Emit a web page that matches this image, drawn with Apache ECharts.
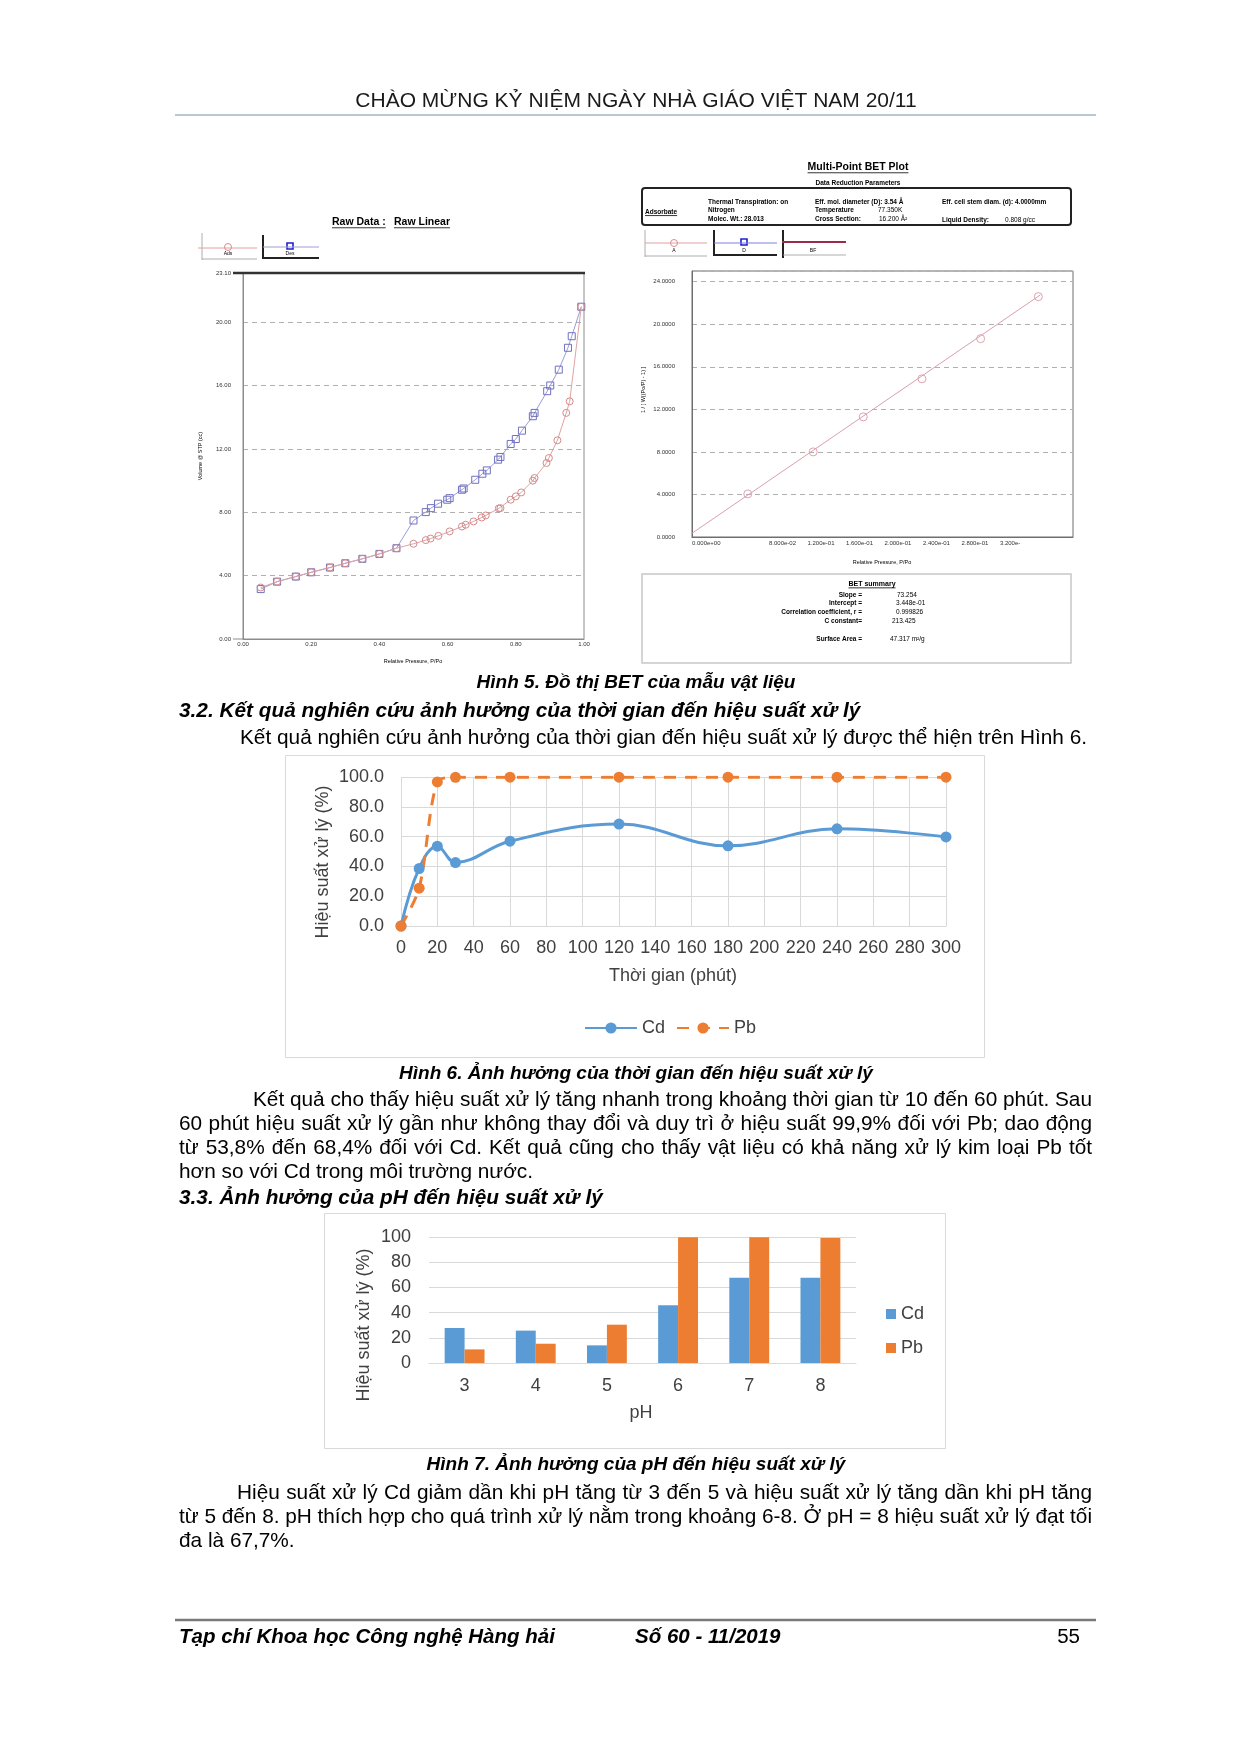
<!DOCTYPE html>
<html><head><meta charset="utf-8">
<script src="https://cdn.jsdelivr.net/npm/echarts@6.0.0/dist/echarts.min.js"></script>
<style>html,body{margin:0;padding:0;background:#fff}#c{width:1240px;height:1754px}</style>
</head><body><div id="c"></div>
<script>
// ---------- DATA ----------
// Hình 5 (left): raw isotherm, relative pressure P/Po and volume (cc/g STP)
const adsP = [0.052,0.10,0.155,0.20,0.255,0.30,0.35,0.40,0.45,0.50,0.536,0.55,0.573,0.606,0.642,0.653,0.676,0.70,0.712,0.75,0.755,0.785,0.80,0.816,0.85,0.855,0.89,0.897,0.922,0.948,0.958,0.992];
const adsV = [3.25,3.62,3.94,4.21,4.51,4.78,5.06,5.37,5.73,6.01,6.24,6.34,6.51,6.79,7.10,7.21,7.42,7.67,7.80,8.24,8.26,8.79,9.00,9.25,9.99,10.16,11.11,11.42,12.54,14.27,15.00,20.97];
const desP = [0.992,0.964,0.953,0.926,0.901,0.892,0.855,0.85,0.818,0.80,0.785,0.755,0.748,0.715,0.702,0.681,0.647,0.642,0.606,0.599,0.572,0.551,0.536,0.50,0.45,0.40,0.35,0.30,0.255,0.20,0.155,0.10,0.052];
const desV = [20.97,19.11,18.38,17.00,16.00,15.64,14.27,14.06,13.15,12.62,12.31,11.49,11.32,10.64,10.43,10.05,9.50,9.42,8.89,8.79,8.54,8.26,8.01,7.48,5.73,5.37,5.06,4.78,4.51,4.21,3.94,3.62,3.15];
// Hình 5 (right): multi-point BET
const betP = [0.058,0.126,0.178,0.239,0.300,0.360];
const betY = [4.05,8.00,11.29,14.87,18.64,22.59];
const betFitP = [0,0.362];
const betFitY = [0.35,22.75];
const betXTickLabels = ['0.000e+00','','8.000e-02','1.200e-01','1.600e-01','2.000e-01','2.400e-01','2.800e-01','3.200e-'];
// Hình 6
const timeMin = [0,10,20,30,60,120,180,240,300];
const cdTime = [0,38.6,53.6,42.6,56.9,68.4,53.8,65.2,59.8];
const pbTime = [0,25.4,96.7,99.8,99.9,99.9,99.9,99.9,99.9];
// Hình 7
const phCats = ['3','4','5','6','7','8'];
const cdPH = [27.8,25.7,14.0,45.8,67.7,67.7];
const pbPH = [10.8,15.3,30.4,99.9,99.9,99.2];

// ---------- HELPERS ----------
const FF = '"Liberation Sans", Arial, Helvetica, sans-serif';
const zip = (a,b)=>a.map((v,i)=>[v,b[i]]);
const mctx = document.createElement('canvas').getContext('2d');
function tw(t,size,weight,style){ mctx.font=(style||'normal')+' '+(weight||'normal')+' '+size+'px '+FF; return mctx.measureText(t).width; }
const G = [];
function txt(t,x,y,o){ o=o||{}; G.push({type:'text',x:x,y:y,rotation:o.rot||0,silent:true,z:10,
  style:{text:t,fontSize:o.size||21,fontFamily:FF,fontWeight:o.weight||'normal',fontStyle:o.style||'normal',
  fill:o.color||'#000',align:o.align||'left',verticalAlign:'middle'}}); }
function ln(x1,y1,x2,y2,c,w,dash){ G.push({type:'line',silent:true,z:10,shape:{x1:x1,y1:y1,x2:x2,y2:y2},style:{stroke:c,lineWidth:w,lineDash:dash||null}}); }
function rc(x,y,w,h,c,lw,r,fill){ G.push({type:'rect',silent:true,z:5,shape:{x:x,y:y,width:w,height:h,r:r||0},style:{fill:fill||'none',stroke:c,lineWidth:lw}}); }
function ci(cx,cy,r,c,lw){ G.push({type:'circle',silent:true,z:10,shape:{cx:cx,cy:cy,r:r},style:{fill:'none',stroke:c,lineWidth:lw||1}}); }
function uline(t,x,y,size,align){ const w=tw(t,size,'bold'); const x0 = align==='center'? x-w/2 : x; txt(t,x,y,{size:size,weight:'bold',align:align||'left'}); ln(x0,y+size*0.55,x0+w,y+size*0.55,'#000',0.8); }
function just(t,x0,x1,y,size){ const ws=t.split(' '); const wd=ws.map(w=>tw(w,size)); const tot=wd.reduce((a,b)=>a+b,0); const gap=(x1-x0-tot)/(ws.length-1); let x=x0; ws.forEach((w,i)=>{ txt(w,x,y,{size:size}); x+=wd[i]+gap; }); }

// ---------- PAGE TEXT ----------
txt('CHÀO MỪNG KỶ NIỆM NGÀY NHÀ GIÁO VIỆT NAM 20/11',636,101,{size:21,align:'center',color:'#1a1a1a'});
ln(175,115,1096,115,'#9fb4c8',1.5);

// left BET decorations
uline('Raw Data :',332,222,10.5); uline('Raw Linear',394,222,10.5);
ln(202,233,202,260,'#999',0.8); ln(198,248,257,248,'#e0a0a0',1); ci(228,247,3.5,'#d98c8c',1); txt('Ads',228,254,{size:5,align:'center'}); ln(202,259,257,259,'#999',0.8);
ln(263,235,263,259,'#222',2); ln(262,258,319,258,'#222',2); ln(263,247,319,247,'#a0a0d8',1); rc(287,243,6,6,'#2020d0',1.6); txt('Des',290,254,{size:5,align:'center'});
ln(233,273,585,273,'#333',2.5); ln(233,639,243,639,'#8c8c8c',1);
txt('Volume @ STP (cc)',200,456,{size:5.5,rot:Math.PI/2,align:'center'});
txt('Relative Pressure, P/Po',413,661,{size:5.5,align:'center'});

// right BET decorations
uline('Multi-Point BET Plot',858,167,10.5,'center');
txt('Data Reduction Parameters',858,183,{size:6.5,weight:'bold',align:'center'});
rc(642,188,429,37,'#222',2,3);
uline('Adsorbate',645,212,6.5);
[['Thermal Transpiration: on',708,202],['Nitrogen',708,210],['Molec. Wt.: 28.013',708,219],
 ['Eff. mol. diameter (D): 3.54 Å',815,202],['Temperature',815,210],['Cross Section:',815,219],
 ['Eff. cell stem diam. (d): 4.0000mm',942,202],['Liquid Density:',942,220]].forEach(a=>txt(a[0],a[1],a[2],{size:6.5,weight:'bold'}));
txt('77.350K',878,210,{size:6.5}); txt('16.200 Å²',879,219,{size:6.5}); txt('0.808 g/cc',1005,220,{size:6.5});
ln(645,230,645,257,'#999',0.8); ln(645,243,707,243,'#e0a0a0',1); ci(674,243,3.5,'#d98c8c',1); txt('A',674,251,{size:5,align:'center'}); ln(645,256,707,256,'#999',0.8);
ln(714,230,714,256,'#222',2); ln(714,255,777,255,'#222',2); ln(714,243,777,243,'#8080e0',1); rc(741,239,6,6,'#2020d0',1.6); txt('D',744,251,{size:5,align:'center'});
ln(783,230,783,258,'#222',2); ln(782,242,846,242,'#a02848',2); ln(783,255,846,255,'#999',0.8); txt('BF',813,251,{size:5,align:'center'});
txt('1 / [ W((Po/P) - 1) ]',643,390,{size:5.5,rot:Math.PI/2,align:'center'});
txt('Relative Pressure, P/Po',882,562,{size:5.5,align:'center'});
rc(642,574,429,89,'#c8c8c8',1.5);
uline('BET summary',872,584,7,'center');
[['Slope =',595,'73.254',897],['Intercept =',603,'3.448e-01',896],['Correlation coefficient, r =',612,'0.999826',896],['C constant=',621,'213.425',892],['Surface Area =',639,'47.317 m²/g',890]]
 .forEach(a=>{ txt(a[0],862,a[1],{size:6.5,weight:'bold',align:'right'}); txt(a[2],a[3],a[1],{size:6.5}); });

// captions, headings, paragraphs
const capO = {size:19,weight:'bold',style:'italic',align:'center'};
txt('Hình 5. Đồ thị BET của mẫu vật liệu',636,683,capO);
txt('3.2. Kết quả nghiên cứu ảnh hưởng của thời gian đến hiệu suất xử lý',179,711,{size:20.8,weight:'bold',style:'italic'});
txt('Kết quả nghiên cứu ảnh hưởng của thời gian đến hiệu suất xử lý được thể hiện trên Hình 6.',240,738,{size:20.8});
rc(285.5,755.5,699,302,'#d9d9d9',1);
txt('Hiệu suất xử lý (%)',323,862,{size:18,rot:Math.PI/2,align:'center',color:'#404040'});
txt('Thời gian (phút)',673,976,{size:18,align:'center',color:'#404040'});
txt('Hình 6. Ảnh hưởng của thời gian đến hiệu suất xử lý',636,1074,capO);
just('Kết quả cho thấy hiệu suất xử lý tăng nhanh trong khoảng thời gian từ 10 đến 60 phút. Sau',253,1092,1100,20.8);
just('60 phút hiệu suất xử lý gần như không thay đổi và duy trì ở hiệu suất 99,9% đối với Pb; dao động',179,1092,1124,20.8);
just('từ 53,8% đến 68,4% đối với Cd. Kết quả cũng cho thấy vật liệu có khả năng xử lý kim loại Pb tốt',179,1092,1148,20.8);
txt('hơn so với Cd trong môi trường nước.',179,1172,{size:20.8});
txt('3.3. Ảnh hưởng của pH đến hiệu suất xử lý',179,1198,{size:20.8,weight:'bold',style:'italic'});
rc(324.5,1213.5,621,235,'#d9d9d9',1);
txt('Hiệu suất xử lý (%)',364,1325,{size:18,rot:Math.PI/2,align:'center',color:'#404040'});
txt('pH',641,1413,{size:18,align:'center',color:'#404040'});
txt('Hình 7. Ảnh hưởng của pH đến hiệu suất xử lý',636,1465,capO);
just('Hiệu suất xử lý Cd giảm dần khi pH tăng từ 3 đến 5 và hiệu suất xử lý tăng dần khi pH tăng',237,1092,1493,20.8);
just('từ 5 đến 8. pH thích hợp cho quá trình xử lý nằm trong khoảng 6-8. Ở pH = 8 hiệu suất xử lý đạt tối',179,1092,1517,20.8);
txt('đa là 67,7%.',179,1541,{size:20.8});
ln(175,1620,1096,1620,'#7a7a7a',2.5);
txt('Tạp chí Khoa học Công nghệ Hàng hải',179,1637,{size:20.5,weight:'bold',style:'italic'});
txt('Số 60 - 11/2019',635,1637,{size:20.5,weight:'bold',style:'italic'});
txt('55',1080,1637,{size:20.5,align:'right'});

// ---------- CHART ----------
const chart = echarts.init(document.getElementById('c'), null, {renderer:'canvas', width:1240, height:1754});
const smallLab = (m,f,extra)=>Object.assign({fontSize:6,color:'#333',fontFamily:FF,margin:m,formatter:f},extra||{});
const xlsLab = (m,f)=>({fontSize:18,color:'#404040',fontFamily:FF,margin:m,formatter:f});
const option = {
  animation:false, backgroundColor:'#fff', textStyle:{fontFamily:FF},
  grid:[
    {left:243,top:273,width:341,height:366,show:true,borderColor:'#8c8c8c',borderWidth:1,outerBoundsMode:'none'},
    {left:692,top:271,width:381,height:266,show:true,borderColor:'#6e6e6e',borderWidth:1,outerBoundsMode:'none'},
    {left:401,top:777,width:545,height:149,outerBoundsMode:'none'},
    {left:429,top:1237,width:427,height:126,outerBoundsMode:'none'}
  ],
  xAxis:[
    {gridIndex:0,type:'value',min:0,max:1,interval:0.2,axisLine:{show:true,lineStyle:{color:'#8c8c8c'}},axisTick:{show:false},splitLine:{show:false},
      axisLabel:smallLab(2,v=>v.toFixed(2))},
    {gridIndex:1,type:'value',min:0,max:0.396,interval:0.04,axisLine:{show:true,lineStyle:{color:'#6e6e6e'}},axisTick:{show:false},splitLine:{show:false},
      axisLabel:smallLab(3,v=>{const i=Math.round(v/0.04); return (Math.abs(v-i*0.04)<1e-6 && i<betXTickLabels.length)?betXTickLabels[i]:'';},{align:'left',showMaxLabel:false})},
    {gridIndex:2,type:'value',min:0,max:300,interval:20,axisLine:{show:true,lineStyle:{color:'#d9d9d9'}},axisTick:{show:false},
      splitLine:{show:true,lineStyle:{color:'#d9d9d9',width:1}},axisLabel:xlsLab(13)},
    {gridIndex:3,type:'category',data:phCats,axisLine:{show:true,lineStyle:{color:'#d9d9d9'}},axisTick:{show:false},axisLabel:xlsLab(14)}
  ],
  yAxis:[
    {gridIndex:0,type:'value',min:0,max:23.1,interval:4,axisLine:{show:true,lineStyle:{color:'#8c8c8c'}},axisTick:{show:false},
      splitLine:{show:true,lineStyle:{color:'#b0b0b0',type:[5,4]}},axisLabel:smallLab(12,v=>v.toFixed(2))},
    {gridIndex:1,type:'value',min:0,max:25,interval:4,axisLine:{show:true,lineStyle:{color:'#6e6e6e'}},axisTick:{show:false},
      splitLine:{show:true,lineStyle:{color:'#b0b0b0',type:[5,4]}},axisLabel:smallLab(17,v=>v.toFixed(4),{showMaxLabel:false})},
    {gridIndex:2,type:'value',min:0,max:100,interval:20,axisLine:{show:false},axisTick:{show:false},
      splitLine:{show:true,lineStyle:{color:'#d9d9d9'}},axisLabel:xlsLab(17,v=>v.toFixed(1))},
    {gridIndex:3,type:'value',min:0,max:100,interval:20,axisLine:{show:false},axisTick:{show:false},
      splitLine:{show:true,lineStyle:{color:'#d9d9d9'}},axisLabel:xlsLab(18)}
  ],
  legend:[
    {data:['Cd','Pb'],left:579,top:1014,itemWidth:52,itemHeight:14,itemGap:11,selectedMode:false,
      textStyle:{fontSize:18,color:'#404040',fontFamily:FF}},
    {data:['Cd_pH','Pb_pH'],orient:'vertical',left:881,top:1300,icon:'rect',itemWidth:10,itemHeight:10,itemGap:16,selectedMode:false,
      formatter:n=>n.split('_')[0],textStyle:{fontSize:18,color:'#404040',fontFamily:FF}}
  ],
  series:[
    {name:'Ads',type:'line',xAxisIndex:0,yAxisIndex:0,data:zip(adsP,adsV),symbol:'circle',symbolSize:7,showAllSymbol:true,
      lineStyle:{color:'#dfa3a3',width:1},itemStyle:{color:'rgba(255,255,255,0)',borderColor:'#d48a8a',borderWidth:1},z:3},
    {name:'Des',type:'line',xAxisIndex:0,yAxisIndex:0,data:zip(desP,desV),symbol:'rect',symbolSize:7,showAllSymbol:true,
      lineStyle:{color:'#9c9cd6',width:1},itemStyle:{color:'rgba(255,255,255,0)',borderColor:'#7070c0',borderWidth:1},z:2},
    {name:'BF',type:'line',xAxisIndex:1,yAxisIndex:1,data:zip(betFitP,betFitY),symbol:'none',lineStyle:{color:'#d9a0ae',width:1}},
    {name:'A',type:'scatter',xAxisIndex:1,yAxisIndex:1,data:zip(betP,betY),symbol:'circle',symbolSize:8,
      itemStyle:{color:'rgba(255,255,255,0)',borderColor:'#d88c9c',borderWidth:1}},
    {name:'Cd',type:'line',xAxisIndex:2,yAxisIndex:2,data:zip(timeMin,cdTime),smooth:0.4,symbol:'circle',symbolSize:11,
      lineStyle:{color:'#5B9BD5',width:3},itemStyle:{color:'#5B9BD5'}},
    {name:'Pb',type:'line',xAxisIndex:2,yAxisIndex:2,data:zip(timeMin,pbTime),smooth:0.3,symbol:'circle',symbolSize:11,
      lineStyle:{color:'#ED7D31',width:3,type:[12,9]},itemStyle:{color:'#ED7D31'}},
    {name:'Cd_pH',type:'bar',xAxisIndex:3,yAxisIndex:3,data:cdPH,barGap:'0%',barCategoryGap:'44%',itemStyle:{color:'#5B9BD5'}},
    {name:'Pb_pH',type:'bar',xAxisIndex:3,yAxisIndex:3,data:pbPH,barGap:'0%',barCategoryGap:'44%',itemStyle:{color:'#ED7D31'}}
  ],
  graphic:{elements:G}
};
chart.setOption(option);
</script></body></html>
